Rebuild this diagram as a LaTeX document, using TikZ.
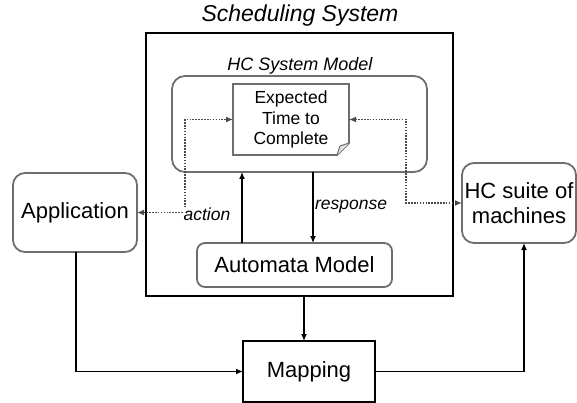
\documentclass[tikz,border=0pt]{standalone}
\usepackage{fontspec}
\setmainfont{Liberation Sans}
\usetikzlibrary{arrows.meta,calc}
\definecolor{boxgray}{HTML}{6E6E6E}
\definecolor{dotgray}{HTML}{4A4A4A}
\begin{document}
\begin{tikzpicture}[x=1pt,y=-1pt,
  every node/.style={inner sep=0pt,outer sep=0pt,align=center},
  rbox/.style={draw=boxgray,line width=1.8pt,rounded corners=12pt},
  sbox/.style={draw=black,line width=1.2pt},
  bigtxt/.style={font=\fontsize{22}{25}\selectfont},
  midtxt/.style={font=\fontsize{17.5}{20.5}\selectfont},
  lbl/.style={font=\fontsize{17.5}{20}\selectfont\itshape},
  arr/.style={line width=1.2pt,-{Latex[length=7pt,width=6pt]}},
  dotarr/.style={dotgray,line width=1.8pt,dash pattern=on 1.6pt off 1.3pt,{Latex[length=7pt,width=6pt]}-{Latex[length=7pt,width=6pt]}}
]
\useasboundingbox (0,0) rectangle (577,403);

% outer scheduling system
\node[sbox,minimum width=307pt,minimum height=263pt] (outer) at (299.5,164.5) {};
\node[font=\fontsize{23}{26}\selectfont\itshape] (title) at (300,16) {Scheduling System};

% HC system model
\node[rbox,rounded corners=13pt,minimum width=255pt,minimum height=96pt] (hcsys) at (299.5,124) {};
\node[font=\fontsize{18}{20}\selectfont\itshape] (hclabel) at (300,66) {HC System Model};

% Expected time to complete (document shape)
\node[midtxt,minimum width=116pt,minimum height=71pt] (etc) at (291,119.5) {Expected\\Time to\\Complete};
\draw[boxgray,line width=1.8pt,line join=miter]
  (etc.north west) -- (etc.north east) -- ([yshift=12pt]etc.south east)
  -- ([xshift=-12pt]etc.south east) -- (etc.south west) -- cycle;
\draw[boxgray,line width=1pt,fill=gray!20]
  ([xshift=-12pt]etc.south east) -- ([xshift=-9pt,yshift=9pt]etc.south east)
  -- ([yshift=12pt]etc.south east);

% other boxes
\node[rbox,bigtxt,minimum width=124pt,minimum height=79pt] (app) at (75,212.5) {Application};
\node[rbox,bigtxt,rounded corners=8pt,minimum width=195pt,minimum height=44pt] (auto) at (294.5,265) {Automata Model};
\node[rbox,bigtxt,minimum width=114pt,minimum height=80pt] (suite) at (519,203) {HC suite of\\machines};
\node[sbox,bigtxt,minimum width=132pt,minimum height=61pt] (map) at (309,371.5) {Mapping};

% solid connectors
\draw[arr] ([xshift=-52.5pt]auto.north) -- ([xshift=-52.5pt]auto.north |- hcsys.south);
\draw[arr] ([xshift=18.5pt]auto.north |- hcsys.south) -- ([xshift=18.5pt]auto.north);
\draw[arr] ([xshift=4.5pt]outer.south) -- ([xshift=4.5pt]outer.south |- map.north);
\draw[arr] ([xshift=1pt]app.south) |- (map.west);
\draw[arr] (map.east) -| ([xshift=5pt]suite.south);

% dotted connectors
\coordinate (cl) at (185,212.5);
\coordinate (cr) at (406,203);
\draw[dotarr] (app.east) -- (cl) |- (etc.west);
\draw[dotarr] (etc.east) -| (cr) -- (suite.west);

% labels
\node[lbl,fill=white,inner sep=0.5pt] (action) at (207,214) {action};
\node[lbl] (response) at (351,207) {response};
\end{tikzpicture}
\end{document}
